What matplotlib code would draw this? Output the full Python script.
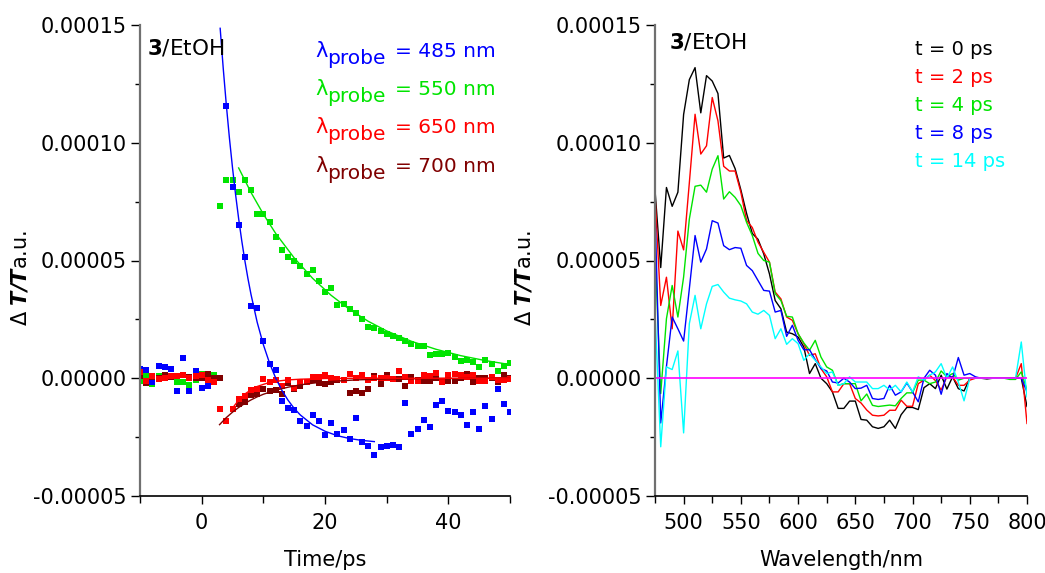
import numpy as np
import matplotlib
matplotlib.use("Agg")
import matplotlib.pyplot as plt
from matplotlib.ticker import FixedLocator, FormatStrFormatter, MultipleLocator

plt.rcParams['font.family'] = ['DejaVu Sans']
plt.rcParams['mathtext.fontset'] = 'dejavusans'

# ---------------- left panel data (kinetics) ----------------
t_pre = [-10, -9, -8, -7, -6, -5, -4, -3, -2, -1, 0, 1, 2]
t_pre_dr = [-10, -9, -8, -7, -6, -5, -4, -3, -2, -1, 0, 1, 2, 3]
blue_pre = [4.0e-6, 3.5e-6, -1.8e-6, 5.2e-6, 4.6e-6, 4.0e-6, -5.6e-6, 8.7e-6, -5.3e-6, 2.9e-6, -4.3e-6, -3.2e-6, -1.8e-6]
green_pre = [-1.0e-6, 1.5e-6, -2.6e-6, 1.0e-6, 0.5e-6, 0.8e-6, -1.4e-6, -1.4e-6, -3.0e-6, -0.8e-6, 2.0e-6, 0.5e-6, 1.3e-6]
red_pre = [2.5e-6, -1.3e-6, 1.0e-6, -0.5e-6, 0.3e-6, 0.8e-6, 1.0e-6, 1.5e-6, 0.2e-6, 0.8e-6, 1.3e-6, -0.8e-6, -1.5e-6]
dred_pre = [1.0e-6, -2.0e-6, 0.5e-6, 0.3e-6, 1.5e-6, 0.5e-6, 1.0e-6, 1.2e-6, 0.5e-6, 0.2e-6, 0.0, 1.8e-6, 0.3e-6, 0.0]

t_blue = list(range(4, 51))
blue_post = [1.156e-4, 8.13e-5, 6.5e-5, 5.15e-5, 3.07e-5, 3.0e-5, 1.6e-5, 6.1e-6, 3.5e-6, -9.7e-6,
             -1.25e-5, -1.36e-5, -1.8e-5, -2.03e-5, -1.57e-5, -1.83e-5, -2.39e-5, -1.9e-5, -2.38e-5, -2.2e-5,
             -2.6e-5, -1.67e-5, -2.69e-5, -2.87e-5, -3.24e-5, -2.93e-5, -2.89e-5, -2.85e-5, -2.94e-5, -1.05e-5,
             -2.37e-5, -2.17e-5, -1.77e-5, -2.07e-5, -1.15e-5, -9.7e-6, -1.38e-5, -1.45e-5, -1.56e-5, -1.97e-5,
             -1.42e-5, -2.17e-5, -1.18e-5, -1.72e-5, -4.4e-6, -1.08e-5, -1.43e-5]

t_post = list(range(3, 51))
green_post = [7.3e-5, 8.4e-5, 8.4e-5, 7.9e-5, 8.4e-5, 8.0e-5, 6.96e-5, 6.96e-5, 6.63e-5, 6.0e-5,
              5.44e-5, 5.13e-5, 5.0e-5, 4.77e-5, 4.43e-5, 4.6e-5, 4.12e-5, 3.67e-5, 3.85e-5, 3.13e-5,
              3.14e-5, 2.94e-5, 2.79e-5, 2.51e-5, 2.17e-5, 2.12e-5, 2.0e-5, 1.87e-5, 1.80e-5, 1.72e-5,
              1.6e-5, 1.46e-5, 1.38e-5, 1.38e-5, 1.0e-5, 1.05e-5, 1.02e-5, 1.07e-5, 9.1e-6, 7.3e-6,
              7.7e-6, 6.9e-6, 4.6e-6, 7.7e-6, 6.0e-6, 3.2e-6, 5.3e-6, 6.4e-6]
red_post = [-1.32e-5, -1.83e-5, -1.32e-5, -8.8e-6, -7.4e-6, -5.0e-6, -4.4e-6, -2e-7, -1.6e-6, -6e-7,
            -3.2e-6, -6e-7, -4.2e-6, -1.6e-6, -1.6e-6, 6e-7, 5e-7, 1.2e-6, 0.0, -2e-7,
            -9e-7, 2e-6, 0.0, 1.3e-6, -9e-7, 0.0, 0.0, 0.0, -2e-7, 2.9e-6,
            5e-7, -1.3e-6, -1.3e-6, 1.2e-6, 9e-7, 2.2e-6, -1.6e-6, 1.2e-6, 1.8e-6, 1.2e-6,
            5e-7, 1.2e-6, -1.3e-6, -1.2e-6, 4e-7, -6e-7, -9e-7, -4e-7]
t_dred = list(range(6, 51))
dred_post = [-1.1e-5, -1.0e-5, -7.2e-6, -6.6e-6, -4.5e-6, -5.3e-6, -5.2e-6, -6.5e-6, -1.9e-6, -4.4e-6,
             -3.5e-6, -1.8e-6, -6e-7, -2e-6, -2.5e-6, -1.5e-6, -6e-7, -6e-7, -6.3e-6, -5.4e-6,
             -6.1e-6, -4.7e-6, 8e-7, -2.3e-6, 1.2e-6, -2e-7, -4e-7, -3.5e-6, 5e-7, -6e-7,
             -1.3e-6, -1.3e-6, 0.0, -1.1e-6, -1.1e-6, -1.1e-6, 0.0, 1.9e-6, -1.5e-6, 0.0,
             0.0, 0.0, -1.6e-6, 1.3e-6, 0.0]

# fitted curves
t_fit_blue = [3.0, 3.5, 4.0, 4.5, 5.0, 5.5, 6.0, 6.5, 7.0, 7.5, 8.0, 9.0, 10, 11, 12, 13, 14, 15, 16, 18, 20, 22, 24, 26, 28]
fit_blue = [1.486e-4, 1.315e-4, 1.16e-4, 1.02e-4, 8.94e-5, 7.8e-5, 6.77e-5, 5.84e-5, 5.0e-5, 4.24e-5, 3.56e-5,
            2.38e-5, 1.43e-5, 6.5e-6, 1e-7, -5.1e-6, -9.3e-6, -1.28e-5, -1.56e-5, -1.98e-5, -2.25e-5,
            -2.44e-5, -2.56e-5, -2.64e-5, -2.69e-5]
t_fit_green = [6, 8, 10, 12, 15, 18, 21, 24, 27, 30, 34, 38, 42, 46, 50]
fit_green = [8.93e-5, 7.89e-5, 6.97e-5, 6.15e-5, 5.11e-5, 4.24e-5, 3.52e-5, 2.92e-5, 2.42e-5, 2.01e-5,
             1.57e-5, 1.23e-5, 9.6e-6, 7.5e-6, 5.8e-6]
t_fit_red = [5.2, 6, 7, 8, 9, 10, 11, 12, 14, 16, 20, 25, 30, 40, 50]
fit_red = [-1.2e-5, -9.3e-6, -6.7e-6, -4.9e-6, -3.5e-6, -2.6e-6, -1.8e-6, -1.3e-6, -7e-7, -4e-7, -1e-7,
           0.0, 0.0, 0.0, 0.0]
t_fit_dred = [2.9, 4, 5, 6, 7, 8, 9, 10, 12, 14, 16, 18, 20, 25, 30, 35, 40, 50]
fit_dred = [-1.97e-5, -1.67e-5, -1.44e-5, -1.24e-5, -1.07e-5, -9.2e-6, -7.9e-6, -6.8e-6, -5.1e-6, -3.8e-6,
            -2.8e-6, -2.1e-6, -1.5e-6, -7e-7, -3e-7, -2e-7, -1e-7, 0.0]

probe_labels = ["485", "550", "650", "700"]

# ---------------- right panel data (spectra) ----------------
wavelength = list(range(475, 801, 5))
spec_0ps = [8.0e-5, 4.7e-5, 8.1e-5, 7.3e-5, 7.9e-5, 1.12e-4, 1.268e-4, 1.319e-4, 1.127e-4, 1.285e-4,
            1.262e-4, 1.209e-4, 9.35e-5, 9.46e-5, 8.9e-5, 8.0e-5, 7.0e-5, 6.15e-5, 5.9e-5, 5.28e-5,
            4.43e-5, 3.3e-5, 2.95e-5, 1.96e-5, 1.89e-5, 1.75e-5, 1.33e-5, 2.0e-6, 6.2e-6, 0.0,
            -2.3e-6, -5.8e-6, -1.28e-5, -1.28e-5, -9.7e-6, -9.7e-6, -1.75e-5, -1.78e-5, -2.06e-5, -2.13e-5,
            -2.06e-5, -1.78e-5, -2.13e-5, -1.55e-5, -1.24e-5, -1.24e-5, -1.33e-5, -4.0e-6, -2.3e-6, -4.4e-6,
            1.3e-6, -4.6e-6, 6e-7, -4.4e-6, -5.4e-6, 0.0, 0.0, 0.0, -3e-7, 0.0,
            0.0, 0.0, 0.0, 0.0, 0.0, -1.2e-5]
spec_2ps = [7.8e-5, 3.09e-5, 4.29e-5, 2.1e-5, 6.25e-5, 5.45e-5, 8.3e-5, 1.121e-4, 9.52e-5, 9.87e-5,
            1.192e-4, 1.093e-4, 9.0e-5, 8.8e-5, 8.8e-5, 7.9e-5, 6.7e-5, 6.4e-5, 5.78e-5, 5.35e-5,
            4.93e-5, 3.66e-5, 3.37e-5, 2.6e-5, 2.46e-5, 1.89e-5, 1.47e-5, 9.7e-6, 1.04e-5, 4.1e-6,
            6e-7, -5.8e-6, -5.8e-6, -2.3e-6, -2.3e-6, -8.6e-6, -1.05e-5, -1.35e-5, -1.57e-5, -1.6e-5,
            -1.57e-5, -1.36e-5, -1.36e-5, -9.3e-6, -1.19e-5, -1.19e-5, -2.3e-6, -8e-7, 1.3e-6, -1e-6,
            -5e-6, 6e-7, 6e-7, -3e-6, -3e-6, -8e-7, 0.0, 0.0, 0.0, 0.0,
            0.0, 0.0, 0.0, 0.0, 6.2e-6, -1.92e-5]
spec_4ps = [5.5e-5, -6.5e-6, 2.53e-5, 3.94e-5, 2.6e-5, 4.3e-5, 6.76e-5, 8.15e-5, 8.2e-5, 7.9e-5,
            8.88e-5, 9.45e-5, 7.61e-5, 7.92e-5, 7.68e-5, 7.33e-5, 6.62e-5, 6.06e-5, 5.3e-5, 5.0e-5,
            4.93e-5, 3.59e-5, 3.3e-5, 2.63e-5, 2.6e-5, 1.89e-5, 1.5e-5, 1.19e-5, 1.61e-5, 9e-6,
            4.8e-6, 3.4e-6, -3e-6, -2.3e-6, -2.3e-6, -2.3e-6, -9.6e-6, -6.7e-6, -1.15e-5, -1.2e-5,
            -1.17e-5, -1.14e-5, -1.17e-5, -8.6e-6, -6.2e-6, -6.2e-6, -8e-7, -8e-7, -2.3e-6, -1.6e-6,
            3.1e-6, 6e-7, 2e-6, -8e-7, 0.0, 0.0, 0.0, 0.0, 0.0, 0.0,
            0.0, 0.0, -5e-7, -5e-7, 2.7e-6, -5e-6]
spec_8ps = [7.2e-5, -1.9e-5, 5e-6, 2.6e-5, 2.1e-5, 1.58e-5, 3.8e-5, 6.06e-5, 4.93e-5, 5.49e-5,
            6.69e-5, 6.59e-5, 5.63e-5, 5.46e-5, 5.55e-5, 5.52e-5, 4.79e-5, 4.57e-5, 4.15e-5, 3.73e-5,
            3.7e-5, 2.81e-5, 2.88e-5, 1.78e-5, 2.25e-5, 1.61e-5, 1.21e-5, 1.21e-5, 7.9e-6, 4.1e-6,
            3.1e-6, -1.6e-6, -2e-6, 0.0, -1.6e-6, -4.4e-6, -4.2e-6, -3e-6, -8.6e-6, -9e-6,
            -8.6e-6, -3e-6, -7.2e-6, -5.8e-6, -2e-6, -5.8e-6, -1e-5, 0.0, 3.4e-6, 1.3e-6,
            -6.8e-6, 2e-6, 0.0, 8.8e-6, 1.3e-6, 2e-6, 6e-7, 0.0, 0.0, 0.0,
            0.0, 0.0, 0.0, 0.0, 0.0, -5.8e-6]
spec_14ps = [2.8e-5, -2.91e-5, 4.8e-6, 3.7e-6, 1.16e-5, -2.32e-5, 2.32e-5, 3.52e-5, 2.1e-5, 3.16e-5,
             3.9e-5, 3.98e-5, 3.66e-5, 3.4e-5, 3.33e-5, 3.28e-5, 3.16e-5, 2.81e-5, 2.72e-5, 2.88e-5,
             2.67e-5, 1.68e-5, 2.1e-5, 1.44e-5, 1.68e-5, 1.47e-5, 7.6e-6, 1.04e-5, 7.6e-6, 4.8e-6,
             2e-6, 2.7e-6, -3e-6, -2.3e-6, 6e-7, -1.6e-6, -1.6e-6, -1.6e-6, -4.4e-6, -4.4e-6,
             -3e-6, -5e-6, -3e-6, -5.8e-6, -1.6e-6, -5.8e-6, 6e-7, -8e-7, 1.3e-6, 2.7e-6,
             6.2e-6, 0.0, 4.8e-6, -1.6e-6, -9.6e-6, 0.0, 0.0, 0.0, 0.0, 0.0,
             0.0, 0.0, 0.0, 0.0, 1.54e-5, -7.9e-6]
delay_labels = ["0", "2", "4", "8", "14"]

# ---------------- styling ----------------
C_BLUE = '#0000FF'
C_GREEN = '#00E400'
C_RED = '#FF0000'
C_DRED = '#800000'
C_CYAN = '#00FFFF'
C_MAG = '#FF00FF'

W, H = 1045, 573
fig = plt.figure(figsize=(W / 100, H / 100), dpi=100)

def fx(px):
    return px / W

def fy(py):
    return 1 - py / H

axL = fig.add_axes([fx(140), fy(496), fx(370), 471 / H])
axR = fig.add_axes([fx(655), fy(496), fx(372), 471 / H])

ms = 4.4
axL.plot(t_pre, green_pre, 's', color=C_GREEN, ms=ms, mew=0)
axL.plot(t_post, green_post, 's', color=C_GREEN, ms=ms, mew=0)
axL.plot(t_pre, blue_pre, 's', color=C_BLUE, ms=ms, mew=0)
axL.plot(t_blue, blue_post, 's', color=C_BLUE, ms=ms, mew=0)
axL.plot(t_pre_dr, dred_pre, 's', color=C_DRED, ms=ms, mew=0)
axL.plot(t_dred, dred_post, 's', color=C_DRED, ms=ms, mew=0)
axL.plot(t_pre, red_pre, 's', color=C_RED, ms=ms, mew=0)
axL.plot(t_post, red_post, 's', color=C_RED, ms=ms, mew=0)

axL.plot(t_fit_blue, fit_blue, '-', color=C_BLUE, lw=1.0)
axL.plot(t_fit_green, fit_green, '-', color=C_GREEN, lw=1.0)
axL.plot(t_fit_dred, fit_dred, '-', color=C_DRED, lw=1.0)
axL.plot(t_fit_red, fit_red, '-', color=C_RED, lw=1.0)

spec_colors = ['black', C_RED, C_GREEN, C_BLUE, C_CYAN]
for s, c in zip([spec_0ps, spec_2ps, spec_4ps, spec_8ps, spec_14ps], spec_colors):
    axR.plot(wavelength, s, '-', color=c, lw=1.0)
axR.axhline(0.0, color=C_MAG, lw=1.2)

for ax in (axL, axR):
    ax.set_ylim(-0.00005, 0.00015)
    ax.yaxis.set_major_locator(FixedLocator([-0.00005, 0.0, 0.00005, 0.0001, 0.00015]))
    ax.yaxis.set_minor_locator(MultipleLocator(0.000025))
    ax.yaxis.set_major_formatter(FormatStrFormatter('%.5f'))
    ax.spines['top'].set_visible(False)
    ax.spines['right'].set_visible(False)
    ax.spines['left'].set_color('#707070')
    ax.spines['left'].set_linewidth(1.6)
    ax.spines['bottom'].set_linewidth(1.2)
    ax.tick_params(axis='y', which='major', direction='out', length=6.5, width=1, labelsize=15, pad=3)
    ax.tick_params(axis='y', which='minor', direction='out', length=3.5, width=1)
    ax.tick_params(axis='x', which='major', direction='out', length=6, width=1, labelsize=15, pad=6)
    ax.tick_params(axis='x', which='minor', direction='out', length=5, width=1)

axL.set_xlim(-10, 50)
axL.xaxis.set_major_locator(FixedLocator([0, 20, 40]))
axL.xaxis.set_minor_locator(FixedLocator([-10, 10, 30, 50]))
axR.set_xlim(475, 800)
axR.xaxis.set_major_locator(MultipleLocator(50))
axR.xaxis.set_minor_locator(MultipleLocator(25))

ylab = r'$\Delta$ $\mathbfit{T/T}$a.u.'
axL.set_ylabel(ylab, fontsize=15)
axR.set_ylabel(ylab, fontsize=15)
axL.yaxis.set_label_coords(-0.297, 0.463)
axR.yaxis.set_label_coords(-0.323, 0.463)
axL.set_xlabel('Time/ps', fontsize=15)
axR.set_xlabel('Wavelength/nm', fontsize=15)
axL.xaxis.set_label_coords(0.5, -0.115)
axR.xaxis.set_label_coords(0.5, -0.115)

# sample labels
fig.text(fx(147), fy(55), r'$\mathbf{3}$/EtOH', fontsize=15.5, va='baseline', ha='left')
fig.text(fx(669), fy(48), r'$\mathbf{3}$/EtOH', fontsize=15.5, va='baseline', ha='left')

# left legend
probe_colors = [C_BLUE, C_GREEN, C_RED, C_DRED]
for i, (lab, c) in enumerate(zip(probe_labels, probe_colors)):
    yb = 56.7 + 38.3 * i
    fig.text(fx(315), fy(yb), '\u03bb', fontsize=15, color=c, va='baseline', ha='left')
    fig.text(fx(327), fy(yb + 7), 'probe', fontsize=14.5, color=c, va='baseline', ha='left')
    fig.text(fx(395), fy(yb), '= %s nm' % lab, fontsize=14.5, color=c, va='baseline', ha='left')

# right legend
for i, (lab, c) in enumerate(zip(delay_labels, spec_colors)):
    yb = 55 + 28 * i
    fig.text(fx(915), fy(yb), 't = %s ps' % lab, fontsize=14, color=c, va='baseline', ha='left')

fig.savefig('out.png', dpi=100)
